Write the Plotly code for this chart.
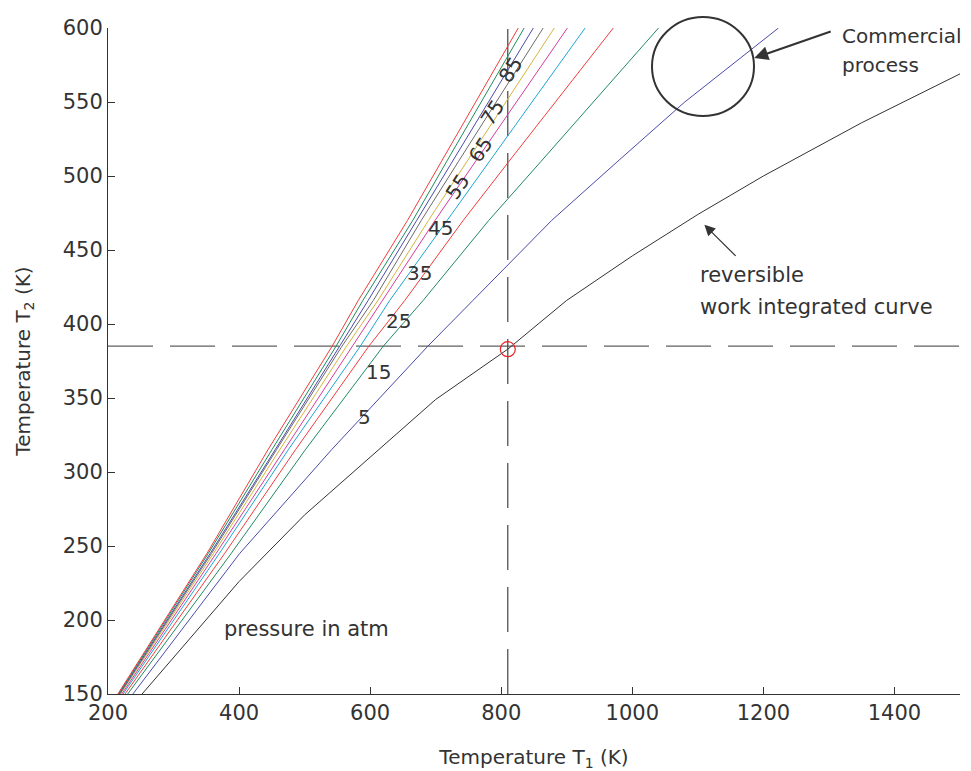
import plotly.graph_objects as go

# T2 grid (K) at which each pressure curve's T1 is read
t2_grid = [150, 245, 315, 385, 416, 470, 510, 550, 600]

pressures = [5, 15, 25, 35, 45, 55, 65, 75, 85, 95]
t1_p5 = [238, 401, 541, 688, 757, 877, 978, 1080, 1223]
t1_p15 = [230, 388, 501, 620, 681, 781, 861, 940, 1040]
t1_p25 = [226, 378, 486, 598, 653, 742, 812, 883, 971]
t1_p35 = [223, 370, 475, 585, 630, 717, 782, 847, 928]
t1_p45 = [221, 365, 469, 573, 620, 699, 761, 823, 901]
t1_p55 = [219, 361, 462, 564, 612, 689, 748, 807, 881]
t1_p65 = [218, 358, 457, 557, 605, 678, 735, 792, 864]
t1_p75 = [217, 356, 455, 553, 597, 671, 726, 780, 849]
t1_p85 = [216, 353, 450, 548, 589, 665, 717, 770, 835]
t1_p95 = [215, 351, 444, 542, 582, 657, 709, 761, 826]
series_t1 = [t1_p5, t1_p15, t1_p25, t1_p35, t1_p45, t1_p55, t1_p65, t1_p75, t1_p85, t1_p95]

# reversible work integrated curve
rev_t1 = [252, 400, 500, 600, 700, 810, 900, 1000, 1100, 1200, 1350, 1500]
rev_t2 = [150, 226, 271, 310, 349, 383, 416, 446, 474, 500, 536, 569]

# operating point
op_t1 = [810]
op_t2 = [383]
ref_t1 = 810
ref_t2 = 385

x_ticks = [200, 400, 600, 800, 1000, 1200, 1400]
y_ticks = [150, 200, 250, 300, 350, 400, 450, 500, 550, 600]

colors = ["#4a4aaa", "#1f8a5e", "#f03c3c", "#1ea6d2", "#d43c9c",
          "#d4b43c", "#6e6a6a", "#4a4aaa", "#1f8a5e", "#f03c3c"]

FONT = "DejaVu Sans, Verdana, sans-serif"
TXT = "#333333"

fig = go.Figure()

# dashed reference lines
fig.add_trace(go.Scatter(x=[200, 1500], y=[ref_t2, ref_t2], mode="lines",
                         line=dict(color="#606060", width=1.2, dash="45px,17px"),
                         hoverinfo="skip", showlegend=False))
fig.add_trace(go.Scatter(x=[ref_t1, ref_t1], y=[150, 600], mode="lines",
                         line=dict(color="#444444", width=1.2, dash="45px,17px"),
                         hoverinfo="skip", showlegend=False))

for p, t1, c in zip(pressures, series_t1, colors):
    fig.add_trace(go.Scatter(x=t1, y=t2_grid, mode="lines", name=f"{p} atm",
                             line=dict(color=c, width=1), showlegend=False))

fig.add_trace(go.Scatter(x=rev_t1, y=rev_t2, mode="lines",
                         line=dict(color="#333333", width=1), showlegend=False))

fig.add_trace(go.Scatter(x=op_t1, y=op_t2, mode="markers",
                         marker=dict(symbol="circle-open", size=15,
                                     color="#ee2222", line=dict(width=1.2)),
                         showlegend=False))

annotations = []
# pressure labels
label_pos = [
    ("5", 592, 337, 0), ("15", 612, 367.6, 0), ("25", 643, 402, 0),
    ("35", 676, 434.5, 0), ("45", 707, 465, 0), ("55", 733, 492.6, -57),
    ("65", 768, 517.6, -57), ("75", 786, 542.6, -57), ("85", 814, 571.6, -57),
]
for txt, x, y, ang in label_pos:
    annotations.append(dict(x=x, y=y, xref="x", yref="y", text=txt, showarrow=False,
                            textangle=ang, font=dict(family=FONT, size=20, color=TXT)))

# text notes (paper coords from plot area 108..960, 28..694 in window pixels)
def px(xp):
    return (xp - 108) / 852.0

def py(yp):
    return (694 - yp) / 666.0

NOTE = dict(family=FONT, size=21, color=TXT)
annotations.append(dict(x=px(222), y=py(643), xref="paper", yref="paper",
                        text="pressure in atm", showarrow=False, xanchor="left", font=NOTE))
annotations.append(dict(x=px(698), y=py(275), xref="paper", yref="paper",
                        text="reversible", showarrow=False, xanchor="left", font=NOTE))
annotations.append(dict(x=px(698), y=py(307), xref="paper", yref="paper",
                        text="work integrated curve", showarrow=False, xanchor="left", font=NOTE))
annotations.append(dict(x=px(840), y=py(22), xref="paper", yref="paper",
                        text="Commercial", showarrow=False, xanchor="left",
                        font=dict(family=FONT, size=20, color=TXT)))
annotations.append(dict(x=px(840), y=py(51), xref="paper", yref="paper",
                        text="process", showarrow=False, xanchor="left",
                        font=dict(family=FONT, size=20, color=TXT)))

# arrows
annotations.append(dict(x=1186, y=579.7, xref="x", yref="y", ax=1305, ay=598,
                        axref="x", ayref="y", text="", showarrow=True,
                        arrowhead=2, arrowsize=1.4, arrowwidth=2, arrowcolor="#333333"))
annotations.append(dict(x=1110, y=467, xref="x", yref="y", ax=1160, ay=445,
                        axref="x", ayref="y", text="", showarrow=True,
                        arrowhead=2, arrowsize=1.8, arrowwidth=1.2, arrowcolor="#333333"))

shapes = [dict(type="circle", xref="paper", yref="paper",
               x0=px(652), x1=px(754), y0=py(116), y1=py(17),
               line=dict(color="#333333", width=2))]

# page body has an 8px margin, so the figure is offset by 8px
fig.update_layout(
    width=955, height=763,
    margin=dict(l=100, r=3, t=20, b=77),
    plot_bgcolor="white", paper_bgcolor="white",
    font=dict(family=FONT, color=TXT),
    annotations=annotations, shapes=shapes,
    showlegend=False,
)
fig.update_xaxes(range=[200, 1500], tickvals=x_ticks, ticks="inside", ticklen=7,
                 showgrid=False, zeroline=False, showline=True, linecolor="#333333",
                 linewidth=1, tickcolor="#333333", tickfont=dict(size=21, color=TXT),
                 automargin=False,
                 title=dict(text="Temperature T<sub>1</sub> (K)", font=dict(size=20, color=TXT),
                            standoff=27))
fig.update_yaxes(range=[150, 600], tickvals=y_ticks, ticks="inside", ticklen=7,
                 showgrid=False, zeroline=False, showline=True, linecolor="#333333",
                 linewidth=1, tickcolor="#333333", tickfont=dict(size=21, color=TXT),
                 automargin=False,
                 title=dict(text="Temperature T<sub>2</sub> (K)", font=dict(size=20, color=TXT),
                            standoff=26))

fig.write_html("out.html")
